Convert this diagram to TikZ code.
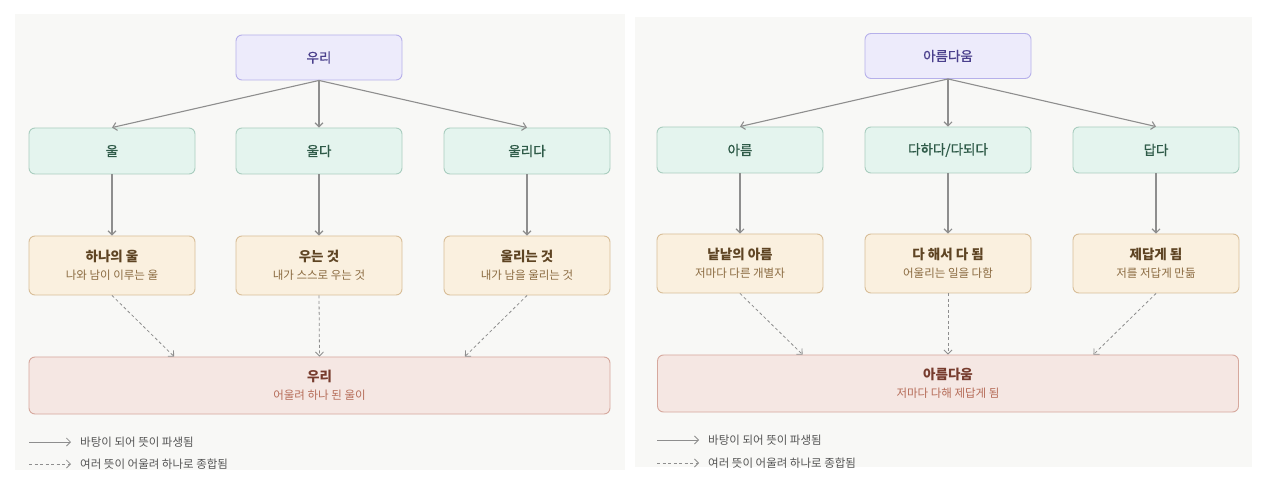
\documentclass[tikz,border=0pt]{standalone}
\usepackage{fontspec}
\setmainfont{Noto Sans CJK KR}
\newfontfamily\krmed[FakeBold=0.9]{Noto Sans CJK KR}
\usetikzlibrary{arrows.meta,calc}

\definecolor{panelbg}{HTML}{F8F8F6}
\definecolor{rootfill}{HTML}{EDEBFB}
\definecolor{rootline}{HTML}{B6B0EA}
\definecolor{roottext}{HTML}{4A3F8C}
\definecolor{stemfill}{HTML}{E4F4EE}
\definecolor{stemline}{HTML}{A9CDBF}
\definecolor{stemtext}{HTML}{2E5A48}
\definecolor{senfill}{HTML}{FAF0DF}
\definecolor{senline}{HTML}{D8BE98}
\definecolor{sentext}{HTML}{5E4423}
\definecolor{sensub}{HTML}{8A6A40}
\definecolor{sumfill}{HTML}{F5E7E3}
\definecolor{sumline}{HTML}{D6A89D}
\definecolor{sumtext}{HTML}{773C2E}
\definecolor{sumsub}{HTML}{B56C58}
\definecolor{arrowgray}{HTML}{8E8E8E}
\definecolor{legendtext}{HTML}{555555}

\newcommand\boxtext[3]{{\bfseries\fontsize{13.5}{19}\selectfont #1}\\[6pt]{\color{#3}\fontsize{11.5}{17}\selectfont #2}}

\begin{document}
\begin{tikzpicture}[x=1pt, y=-1pt, >={Straight Barb[length=4pt,width=8pt]},
  box/.style={draw, rounded corners=6pt, line width=.9pt, minimum width=166pt, align=center, inner sep=0pt},
  rootbox/.style={box, fill=rootfill, draw=rootline, text=roottext, minimum height=45pt, font=\krmed\fontsize{13.5}{15}\selectfont},
  stembox/.style={box, fill=stemfill, draw=stemline, text=stemtext, minimum height=46pt, font=\krmed\fontsize{13.5}{15}\selectfont},
  sensebox/.style={box, fill=senfill, draw=senline, text=sentext, minimum height=59pt},
  sumbox/.style={box, fill=sumfill, draw=sumline, text=sumtext, minimum height=57pt, minimum width=581pt},
  derive/.style={->, draw=arrowgray, line width=1.1pt},
  merge/.style={->, draw=arrowgray, line width=.8pt, dash pattern=on 3pt off 2.5pt},
  legend/.style={anchor=west, text=legendtext, font=\fontsize{11.5}{13}\selectfont, inner sep=0pt}]

\useasboundingbox (0,0) rectangle (1264,486);
\fill[white] (0,0) rectangle (1264,486);

%% left panel: 우리
\fill[panelbg] (15,14) rectangle (625,470);

\node[rootbox] (uri) at (319,57.5) {우리};

\node[stembox] (ul) at (112,151) {울};
\node[stembox] (ulda) at (319,151) {울다};
\node[stembox] (ullida) at (527,151) {울리다};

\node[sensebox] (hanaul) at (112,265.5) {\boxtext{하나의 울}{나와 남이 이루는 울}{sensub}};
\node[sensebox] (uneun) at (319,265.5) {\boxtext{우는 것}{내가 스스로 우는 것}{sensub}};
\node[sensebox] (ullineun) at (527,265.5) {\boxtext{울리는 것}{내가 남을 울리는 것}{sensub}};

\node[sumbox] (urisum) at (319.5,385.5) {\boxtext{우리}{어울려 하나 된 울이}{sumsub}};
\coordinate (urisumA) at ($(urisum.north west)!.25!(urisum.north east)$);
\coordinate (urisumC) at ($(urisum.north west)!.75!(urisum.north east)$);

\draw[derive] (uri.south) -- (ul.north);
\draw[derive] (uri.south) -- (ulda.north);
\draw[derive] (uri.south) -- (ullida.north);
\draw[derive] (ul) -- (hanaul);
\draw[derive] (ulda) -- (uneun);
\draw[derive] (ullida) -- (ullineun);
\draw[merge] (hanaul.south) -- (urisumA);
\draw[merge] (uneun.south) -- (urisum.north);
\draw[merge] (ullineun.south) -- (urisumC);

\coordinate (legLa) at (29,442);
\coordinate (legLb) at (71,442);
\coordinate (legLc) at (29,464);
\coordinate (legLd) at (71,464);
\draw[derive, line width=.8pt] (legLa) -- (legLb);
\draw[merge] (legLc) -- (legLd);
\node[legend] (legL1) at (80,442) {바탕이 되어 뜻이 파생됨};
\node[legend] (legL2) at (80,464) {여러 뜻이 어울려 하나로 종합됨};

%% right panel: 아름다움
\fill[panelbg] (635,17) rectangle (1252,467);

\node[rootbox] (areum) at (948,56) {아름다움};

\node[stembox] (areumstem) at (740,150) {아름};
\node[stembox] (daha) at (948,150) {다하다/다되다};
\node[stembox] (dapda) at (1156,150) {답다};

\node[sensebox] (nalnal) at (740,263.5) {\boxtext{낱낱의 아름}{저마다 다른 개별자}{sensub}};
\node[sensebox] (dahaeseo) at (948,263.5) {\boxtext{다 해서 다 됨}{어울리는 일을 다함}{sensub}};
\node[sensebox] (jedap) at (1156,263.5) {\boxtext{제답게 됨}{저를 저답게 만듦}{sensub}};

\node[sumbox] (areumsum) at (948,383.5) {\boxtext{아름다움}{저마다 다해 제답게 됨}{sumsub}};
\coordinate (areumsumA) at ($(areumsum.north west)!.25!(areumsum.north east)$);
\coordinate (areumsumC) at ($(areumsum.north west)!.75!(areumsum.north east)$);

\draw[derive] (areum.south) -- (areumstem.north);
\draw[derive] (areum.south) -- (daha.north);
\draw[derive] (areum.south) -- (dapda.north);
\draw[derive] (areumstem) -- (nalnal);
\draw[derive] (daha) -- (dahaeseo);
\draw[derive] (dapda) -- (jedap);
\draw[merge] (nalnal.south) -- (areumsumA);
\draw[merge] (dahaeseo.south) -- (areumsum.north);
\draw[merge] (jedap.south) -- (areumsumC);

\coordinate (legRa) at (657,440);
\coordinate (legRb) at (699,440);
\coordinate (legRc) at (657,463);
\coordinate (legRd) at (699,463);
\draw[derive, line width=.8pt] (legRa) -- (legRb);
\draw[merge] (legRc) -- (legRd);
\node[legend] (legR1) at (708,440) {바탕이 되어 뜻이 파생됨};
\node[legend] (legR2) at (708,463) {여러 뜻이 어울려 하나로 종합됨};

\end{tikzpicture}
\end{document}
